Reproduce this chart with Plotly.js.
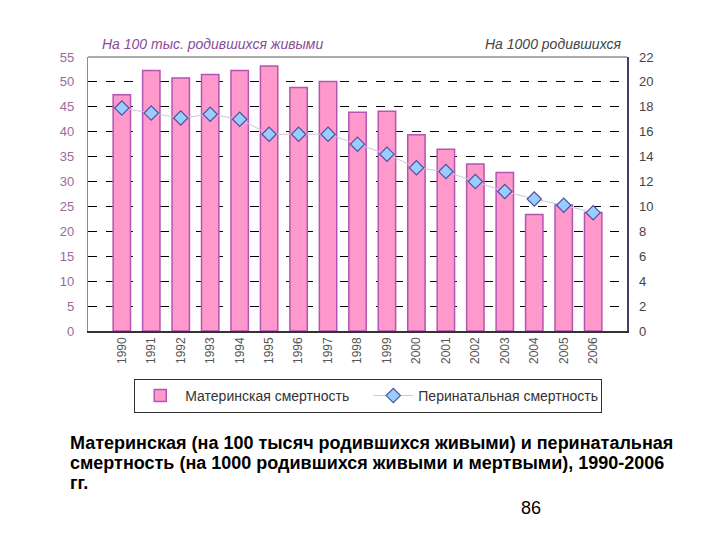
<!DOCTYPE html>
<html>
<head>
<meta charset="utf-8">
<script src="https://cdn.plot.ly/plotly-3.0.1.min.js"></script>
<style>html,body{margin:0;padding:0;background:#fff;}</style>
</head>
<body>
<div id="chart" style="width:720px;height:540px;"></div>
<script>
const years = ["1990","1991","1992","1993","1994","1995","1996","1997","1998","1999","2000","2001","2002","2003","2004","2005","2006"];
const maternal = [47.4, 52.3, 50.8, 51.5, 52.3, 53.2, 48.9, 50.1, 43.9, 44.1, 39.4, 36.5, 33.5, 31.8, 23.4, 25.3, 23.8];
const perinatal = [17.9, 17.5, 17.1, 17.4, 17.0, 15.8, 15.8, 15.8, 15.0, 14.2, 13.1, 12.8, 12.0, 11.2, 10.6, 10.1, 9.5];
const leftLabel = "На 100 тыс. родившихся живыми";
const rightLabel = "На 1000 родившихся";
const captionLines = [
  "Материнская (на 100 тысяч родившихся живыми) и перинатальная",
  "смертность (на 1000 родившихся живыми и мертвыми), 1990-2006",
  "гг."
];
const pageNum = "86";

const font = "Liberation Sans, Arial, sans-serif";

const traces = [
  {
    type: "bar", x: years, y: maternal, name: "Материнская смертность",
    marker: {color: "#ff99cc", line: {color: "#b355b3", width: 1.5}},
    yaxis: "y"
  },
  {
    type: "scatter", mode: "lines+markers", x: years, y: perinatal, name: "Перинатальная смертность",
    line: {color: "#c8c8d8", width: 1},
    marker: {symbol: "diamond", size: 11, color: "#99ccff", line: {color: "#5050a0", width: 1.2}},
    yaxis: "y2"
  }
];

const captionY = [-0.409, -0.482, -0.553];
const annotations = [
  {text: leftLabel, xref: "paper", yref: "paper", x: 0.022, y: 1.047, xanchor: "left", yanchor: "middle",
   showarrow: false, font: {family: font, size: 14, color: "#8a4a9a", style: "italic"}},
  {text: rightLabel, xref: "paper", yref: "paper", x: 0.993, y: 1.047, xanchor: "right", yanchor: "middle",
   showarrow: false, font: {family: font, size: 14, color: "#444", style: "italic"}},
  {text: pageNum, xref: "paper", yref: "paper", x: 0.822, y: -0.646, xanchor: "center", yanchor: "middle",
   showarrow: false, font: {family: font, size: 18, color: "#000"}}
];
captionLines.forEach((t, i) => annotations.push({
  text: "<b>" + t + "</b>", xref: "paper", yref: "paper", x: -0.038, y: captionY[i], xanchor: "left", yanchor: "middle",
  align: "left", showarrow: false, font: {family: font, size: 18, color: "#000"}
}));

const layout = {
  width: 720, height: 540,
  margin: {l: 88, r: 93, t: 57, b: 209},
  paper_bgcolor: "#ffffff", plot_bgcolor: "#ffffff",
  font: {family: font, size: 12, color: "#555"},
  bargap: 0.41,
  showlegend: true,
  legend: {
    orientation: "h", x: 0.52, xanchor: "center", y: -0.175, yanchor: "top",
    bordercolor: "#333", borderwidth: 1,
    font: {family: font, size: 14, color: "#333"},
    entrywidth: 178, itemwidth: 40
  },
  xaxis: {
    type: "category",
    tickangle: -90,
    tickfont: {family: font, size: 12, color: "#555"},
    showline: true, linecolor: "#333", linewidth: 1.5,
    ticks: "", showgrid: false
  },
  yaxis: {
    range: [0, 55], dtick: 5,
    tickfont: {family: font, size: 13, color: "#9a6a9a"},
    showline: true, linecolor: "#a080a0", linewidth: 1.2,
    ticks: "", ticklabelstandoff: 10,
    showgrid: true, gridcolor: "#000", griddash: "dash", gridwidth: 1,
    zeroline: false
  },
  yaxis2: {
    range: [0, 22], dtick: 2, overlaying: "y", side: "right",
    tickfont: {family: font, size: 13, color: "#444"},
    showline: true, linecolor: "#404070", linewidth: 1.5,
    ticks: "", ticklabelstandoff: 8,
    showgrid: false, zeroline: false
  },
  shapes: [
    {type: "line", xref: "paper", yref: "paper", x0: 0, x1: 1, y0: 1, y1: 1, line: {color: "#909090", width: 1.5}}
  ],
  annotations: annotations
};

Plotly.newPlot("chart", traces, layout, {displayModeBar: false, staticPlot: true});
</script>
</body>
</html>
